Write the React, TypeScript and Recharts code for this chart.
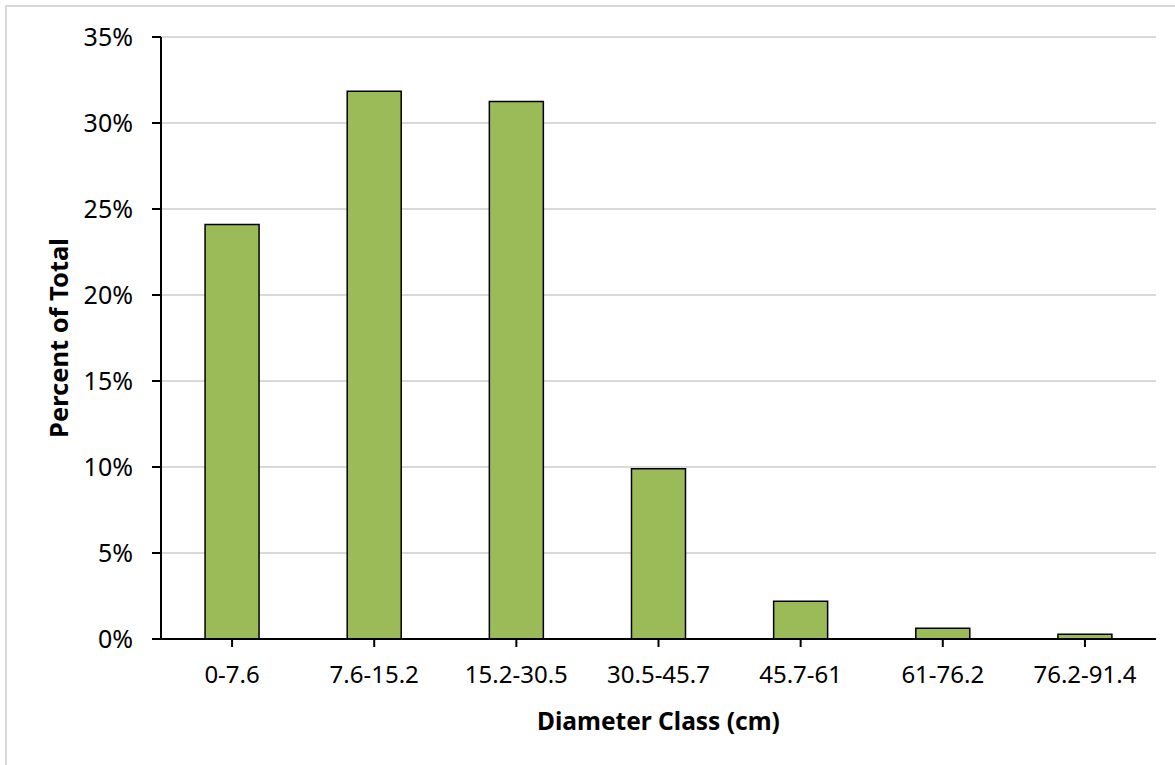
import { BarChart, Bar, XAxis, YAxis, CartesianGrid, Label } from 'recharts'

const diameterClasses = ['0-7.6', '7.6-15.2', '15.2-30.5', '30.5-45.7', '45.7-61', '61-76.2', '76.2-91.4']
const percentOfTotal = [24.1, 31.85, 31.25, 9.9, 2.2, 0.63, 0.27]
const yTicks = [0, 5, 10, 15, 20, 25, 30, 35]

const data = diameterClasses.map((name, i) => ({ name, pct: percentOfTotal[i] }))

const FONT = '"Noto Sans", sans-serif'

export default function App() {
  return (
    <div style={{ position: 'absolute', left: 0, top: 0, width: 1175, height: 765, background: '#fff', overflow: 'hidden' }}>
      <div
        style={{
          position: 'absolute',
          left: 5,
          top: 5,
          width: 1180,
          height: 770,
          border: '2px solid #d9d9d9',
          boxSizing: 'border-box',
        }}
      />
      <div style={{ position: 'absolute', left: 0, top: 0 }}>
        <BarChart
          width={1175}
          height={765}
          data={data}
          margin={{ top: 37, right: 19, bottom: 66, left: 61 }}
          barCategoryGap="31%"
        >
          <CartesianGrid vertical={false} stroke="#d9d9d9" strokeWidth={2} />
          <XAxis
            dataKey="name"
            axisLine={{ stroke: '#000', strokeWidth: 2 }}
            tickLine={{ stroke: '#000', strokeWidth: 2 }}
            tickSize={8}
            tickMargin={19}
            height={60}
            tick={{ fontSize: 24, fill: '#000', fontFamily: FONT }}
            interval={0}
          >
            <Label
              value="Diameter Class (cm)"
              position="bottom"
              offset={14}
              style={{ fontSize: 24.5, fontWeight: 700, fill: '#000', fontFamily: FONT }}
            />
          </XAxis>
          <YAxis
            width={100}
            domain={[0, 35]}
            ticks={yTicks}
            interval={0}
            tickFormatter={(v: number) => `${v}%`}
            axisLine={{ stroke: '#000', strokeWidth: 2 }}
            tickLine={{ stroke: '#000', strokeWidth: 2 }}
            tickSize={9}
            tickMargin={19}
            tick={{ fontSize: 25, fill: '#000', fontFamily: FONT }}
          >
            <Label
              value="Percent of Total"
              angle={-90}
              position="insideLeft"
              offset={-2}
              style={{ textAnchor: 'middle', fontSize: 25.5, fontWeight: 700, fill: '#000', fontFamily: FONT }}
            />
          </YAxis>
          <Bar dataKey="pct" fill="#9bbb59" stroke="#000" strokeWidth={1.5} isAnimationActive={false} />
        </BarChart>
      </div>
    </div>
  )
}
